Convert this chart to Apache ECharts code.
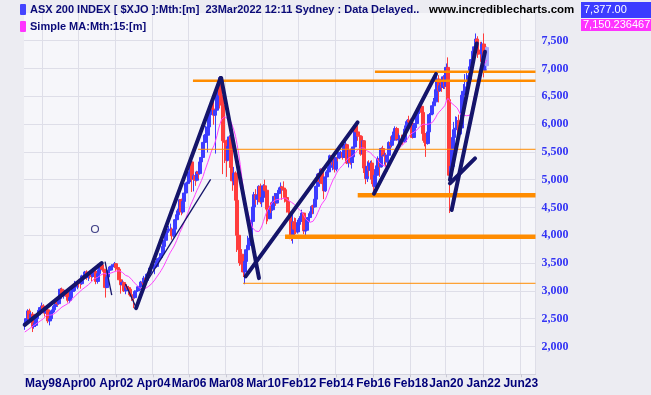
<!DOCTYPE html>
<html><head><meta charset="utf-8">
<script src="https://cdn.jsdelivr.net/npm/echarts@6/dist/echarts.min.js"></script>
<style>html,body{margin:0;padding:0;background:#ececf2;}#c{width:651px;height:395px;}</style>
</head><body><div id="c"></div>
<script>
// ---- data (monthly bars, first bar = May 1997) ----
const startYear = 1997, startMonth = 4;
const categoryCount = 330;
const opens = [
2380,2420,2500,2640,2500,2580,2360,2380,
2500,2570,2650,2700,2730,2620,2600,2660,2460,2500,2620,2660,
2720,2800,2770,2860,3030,2920,2930,2980,2900,2830,2880,2990,
3060,3070,3080,3160,3150,3130,3270,3230,3340,3240,3320,3280,
3260,3350,3350,3170,3310,3380,3470,3390,3350,3060,3250,3370,
3430,3450,3450,3490,3420,3390,3200,3110,3150,3000,3080,3060,
3030,2930,2900,2880,2990,3000,3020,3080,3160,3150,3230,3190,
3300,3330,3410,3420,3430,3440,3530,3580,3600,3670,3800,3910,
4050,4080,4100,4110,3990,4110,4280,4370,4440,4640,4420,4610,
4760,4930,4960,5130,5320,5010,5070,4990,5140,5110,5320,5400,
5670,5800,5800,5950,6170,6290,6270,6160,6250,6580,6780,6520,
6340,5700,5670,5350,5600,5770,5220,4980,5120,4630,4000,3740,
3660,3480,3340,3530,3740,3820,3950,4250,4510,4730,4650,4720,
4880,4600,4680,4890,4810,4470,4300,4490,4460,4600,4700,4580,
4750,4810,4870,4850,4820,4680,4610,4420,4300,3980,4240,4110,
4060,4230,4250,4340,4400,4080,4090,4280,4320,4390,4520,4510,
4650,4880,5100,4970,5190,4930,4800,5050,5140,5220,5430,5320,
5350,5190,5400,5390,5490,5490,5400,5630,5630,5300,5530,5310,
5410,5590,5930,5860,5790,5780,5460,5700,5210,5020,5240,5170,
5300,5010,4880,5080,5250,5380,5230,5560,5430,5440,5320,5440,
5670,5620,5710,5860,5920,5720,5720,5720,5710,5680,5910,5970,
6070,6040,6020,5760,5980,6010,6190,6280,6320,6210,5830,5670,
5650,5860,6170,6180,6330,6400,6620,6810,6600,6690,6660,6850,
6680,7020,6440,5080,5240,5760,5900,5930,6060,5820,5930,6520,
6590,6610,6670,6790,7030,7160,7310,7390,7530,7330,7320,7260,
7440,6970,7050];
const closes = [
2420,2500,2640,2500,2580,2360,2380,2500,
2570,2650,2700,2730,2620,2600,2660,2460,2500,2620,2660,2720,
2800,2770,2860,3030,2920,2930,2980,2900,2830,2880,2990,3060,
3070,3080,3160,3150,3130,3270,3230,3340,3240,3320,3280,3260,
3350,3350,3170,3310,3380,3470,3390,3350,3060,3250,3370,3430,
3450,3450,3490,3420,3390,3200,3110,3150,3000,3080,3060,3030,
2930,2900,2880,2990,3000,3020,3080,3160,3150,3230,3190,3300,
3330,3410,3420,3430,3440,3530,3580,3600,3670,3800,3910,4050,
4080,4100,4110,3990,4110,4280,4370,4440,4640,4420,4610,4760,
4930,4960,5130,5320,5010,5070,4990,5140,5110,5320,5400,5670,
5800,5800,5950,6170,6290,6270,6160,6250,6580,6780,6520,6340,
5700,5670,5350,5600,5770,5220,4980,5120,4630,4000,3740,3660,
3480,3340,3530,3740,3820,3950,4250,4510,4730,4650,4720,4880,
4600,4680,4890,4810,4470,4300,4490,4460,4600,4700,4580,4750,
4810,4870,4850,4820,4680,4610,4420,4300,3980,4240,4110,4060,
4230,4250,4340,4400,4080,4090,4280,4320,4390,4520,4510,4650,
4880,5100,4970,5190,4930,4800,5050,5140,5220,5430,5320,5350,
5190,5400,5390,5490,5490,5400,5630,5630,5300,5530,5310,5410,
5590,5930,5860,5790,5780,5460,5700,5210,5020,5240,5170,5300,
5010,4880,5080,5250,5380,5230,5560,5430,5440,5320,5440,5670,
5620,5710,5860,5920,5720,5720,5720,5710,5680,5910,5970,6070,
6040,6020,5760,5980,6010,6190,6280,6320,6210,5830,5670,5650,
5860,6170,6180,6330,6400,6620,6810,6600,6690,6660,6850,6680,
7020,6440,5080,5240,5760,5900,5930,6060,5820,5930,6520,6590,
6610,6670,6790,7030,7160,7310,7390,7530,7330,7320,7260,7440,
6970,7050,7377];
const lows = [
2300,2400,2480,2440,2470,2260,2320,2350,
2470,2540,2620,2670,2600,2540,2570,2420,2380,2460,2580,2600,
2700,2730,2750,2840,2880,2860,2900,2850,2790,2780,2860,2970,
2990,3000,3030,3060,3040,3110,3200,3210,3200,3180,3220,3170,
3240,3300,3120,3130,3300,3360,3360,3320,2880,3050,3230,3330,
3380,3370,3420,3360,3330,3150,2950,3070,2980,2940,3020,2980,
2900,2820,2690,2860,2950,2980,3000,3070,3100,3140,3170,3180,
3250,3310,3330,3380,3300,3420,3500,3530,3590,3650,3780,3890,
4000,4060,4030,3920,3960,4100,4240,4320,4430,4360,4390,4590,
4730,4870,4950,5100,4780,4790,4890,4970,5020,5090,5250,5390,
5620,5680,5490,5940,6150,6200,5990,5470,6220,6560,6280,6150,
5100,5300,5050,5330,5560,5200,4800,4900,4380,3700,3500,3450,
3350,3250,3120,3500,3660,3810,3840,4230,4450,4550,4550,4680,
4560,4510,4680,4790,4200,4250,4290,4400,4440,4580,4530,4580,
4700,4780,4640,4800,4590,4410,4390,3930,3900,3850,4020,4020,
4030,4180,4190,4320,4020,3990,4070,4240,4240,4380,4380,4500,
4640,4850,4930,4950,4880,4650,4780,4970,5090,5200,5260,5170,
5130,5150,5330,5370,5430,5360,5400,5550,5280,5220,5270,5200,
5300,5580,5780,5700,5550,5430,5400,5120,4920,4960,5060,5010,
4920,4710,4860,5000,5170,5050,5220,5410,5270,5230,5150,5420,
5580,5580,5660,5810,5700,5620,5650,5630,5630,5670,5870,5950,
5990,5800,5740,5750,5920,5930,6170,6190,6080,5700,5600,5410,
5630,5840,6050,6160,6240,6380,6590,6390,6580,6580,6630,6630,
6660,6310,4400,5000,5320,5680,5900,5900,5760,5810,5960,6490,
6550,6560,6620,6770,6900,7150,7180,7370,7190,7250,7120,7140,
6840,6920,6980];
const highs = [
2460,2530,2670,2680,2620,2620,2430,2520,
2600,2670,2730,2790,2760,2650,2700,2680,2560,2650,2700,2750,
2830,2840,2880,3050,3060,2990,3020,3010,2950,2900,3010,3090,
3180,3130,3180,3210,3190,3290,3310,3360,3370,3340,3360,3310,
3370,3420,3390,3340,3420,3500,3510,3420,3380,3270,3400,3450,
3480,3480,3520,3500,3470,3400,3230,3190,3170,3110,3120,3090,
3050,2970,2950,3010,3080,3090,3100,3180,3200,3270,3290,3310,
3360,3440,3490,3470,3480,3540,3590,3620,3680,3820,3940,4060,
4120,4170,4210,4140,4130,4290,4390,4480,4650,4660,4620,4790,
4950,5000,5150,5370,5340,5100,5110,5160,5180,5340,5420,5680,
5820,5970,5960,6190,6340,6390,6400,6270,6600,6840,6850,6650,
6370,5900,5720,5650,5800,5780,5300,5230,5150,4730,4170,3800,
3750,3560,3600,3790,3990,4020,4270,4530,4780,4830,4760,4900,
4930,4700,4920,5000,4820,4610,4530,4590,4620,4760,4760,4780,
4860,4950,4890,4970,4840,4710,4630,4460,4340,4390,4320,4310,
4280,4310,4350,4460,4400,4170,4300,4380,4430,4540,4550,4660,
4890,5120,5140,5200,5220,4970,5070,5170,5250,5450,5440,5390,
5370,5410,5440,5500,5520,5510,5640,5680,5650,5540,5560,5470,
5590,5950,5980,6000,5820,5780,5710,5700,5330,5330,5350,5340,
5350,5060,5190,5280,5420,5400,5580,5610,5490,5480,5480,5690,
5780,5800,5900,5960,5950,5830,5800,5810,5760,5930,6050,6090,
6150,6100,6050,5990,6100,6220,6290,6370,6330,6220,5900,5760,
5880,6200,6270,6380,6470,6680,6880,6880,6740,6800,6880,6880,
7090,7200,6650,5550,5780,6040,6140,6130,6170,6190,6580,6720,
6900,6920,6880,7060,7160,7380,7410,7630,7580,7500,7480,7480,
7630,7260,7400];
const ma15 = [
2260,2280,2300,2320,2340,2360,2380,2400,2420,2440,2460,2480,2500,2530,
2561,2563,2563,2562,2573,2582,2611,2637,2661,2692,2710,2725,2742,2761,2776,2791,
2826,2863,2893,2921,2951,2974,2998,3025,3039,3067,3087,3110,3135,3164,3195,3219,
3227,3243,3263,3283,3299,3314,3300,3301,3303,3316,3325,3336,3351,3356,3359,3361,
3347,3332,3301,3280,3261,3259,3237,3206,3169,3139,3109,3077,3055,3039,3036,3044,
3047,3067,3083,3107,3133,3166,3202,3245,3285,3325,3368,3416,3466,3526,3583,3643,
3697,3741,3788,3845,3908,3975,4049,4105,4172,4245,4320,4390,4462,4545,4605,4669,
4736,4805,4860,4923,4987,5056,5148,5227,5307,5389,5478,5554,5610,5693,5793,5913,
6005,6087,6112,6130,6109,6095,6093,6045,5965,5887,5778,5634,5467,5272,5052,4840,
4653,4522,4399,4305,4215,4131,4099,4077,4050,4067,4107,4169,4251,4340,4415,4467,
4517,4559,4603,4633,4637,4639,4649,4659,4657,4672,4672,4653,4627,4616,4595,4578,
4555,4519,4487,4465,4438,4411,4358,4307,4271,4247,4233,4239,4253,4298,4341,4407,
4467,4531,4577,4607,4651,4721,4797,4873,4940,5004,5049,5108,5157,5198,5224,5253,
5282,5329,5362,5394,5405,5418,5429,5469,5503,5543,5569,5573,5587,5569,5543,5517,
5487,5487,5452,5423,5401,5379,5342,5300,5285,5261,5260,5235,5250,5293,5319,5355,
5392,5453,5509,5551,5583,5605,5635,5658,5694,5736,5784,5823,5829,5853,5873,5895,
5919,5959,5991,5999,5996,5994,5991,6004,6011,6031,6056,6113,6169,6208,6241,6267,
6302,6333,6413,6464,6426,6385,6357,6339,6312,6289,6236,6177,6172,6165,6162,6150,
6157,6158,6206,6355,6498,6616,6711,6804,6884,6992,7061,7097,7150];
const xTickIndex  = [12,35,59,83,106,130,154,177,201,225,249,272,296,320];
const xTickLabels = ['May98','Apr00','Apr02','Apr04','Mar06','Mar08','Mar10','Feb12','Feb14','Feb16','Feb18','Jan20','Jan22','Jun23'];
const yTickValues = [2000,2500,3000,3500,4000,4500,5000,5500,6000,6500,7000,7500];
// drawn lines: [[barIndex, value],[barIndex, value]]
const thickTrendLines = [
  [[0,2390],[49.6,3500]],
  [[71.8,2690],[126.3,6830]],
  [[126.7,6830],[151.1,3230]],
  [[142.5,3260],[214.7,6030]],
  [[225.3,4750],[265.3,6900]],
  [[274.3,4995],[291.6,7450]],
  [[275.4,4455],[296.9,7300]],
  [[274.3,4935],[290.5,5385]]
];
const thinTrendLines = [
  [[76.0,3047],[119.9,5007]],
  [[51.8,3525],[56.1,2926]],
  [[65.0,3124],[72.1,2683]]
];
const orangeThick  = [[167.9,3975],[214.8,4719]];
const orangeMedium = [[108.5,6781],[225.9,6942]];
const orangeThin   = [[111.8,5547],[140.8,3137]];
const markerPoint  = [[45.3,4113]];
const lastClose = '7,377.00', lastMA = '7,150.236467';
const headerMain = 'ASX 200 INDEX [ $XJO ]:Mth:[m]  23Mar2022 12:11 Sydney : Data Delayed..';
const headerMA = 'Simple MA:Mth:15:[m]';
const siteName = 'www.incrediblecharts.com';

// ---- build ----
const mNames = ['Jan','Feb','Mar','Apr','May','Jun','Jul','Aug','Sep','Oct','Nov','Dec'];
const categories = [];
for (let i = 0; i < categoryCount; i++) {
  const m = startMonth + i;
  categories.push(mNames[m % 12] + String((startYear + Math.floor(m / 12)) % 100).padStart(2, '0'));
}
const candleData = closes.map((c, i) => {
  const v = [opens[i], c, lows[i], highs[i]];
  if (i === closes.length - 1) return {value: v, itemStyle: {color: '#a8a8ff', borderColor: '#a8a8ff'}};
  return v;
});
const xEnd = categoryCount - 0.5;
const NAVY = '#14146a';
const series = [
  {type: 'candlestick', data: candleData, barWidth: 3.5, z: 2,
   itemStyle: {color: '#3c3cff', color0: '#ff3c3c', borderColor: '#3c3cff', borderColor0: '#ff3c3c', borderWidth: 1}},
  {type: 'line', data: ma15, symbol: 'none', z: 3, lineStyle: {color: '#ff44ff', width: 1}}
];
function hline(arr, w) {
  arr.forEach(p => series.push({type: 'line', xAxisIndex: 1, symbol: 'none', z: 4,
    data: [[p[0], p[1]], [xEnd, p[1]]], lineStyle: {color: '#ff8c00', width: w}}));
}
hline(orangeThick, 4.5); hline(orangeMedium, 2.5); hline(orangeThin, 1);
thickTrendLines.forEach(l => series.push({type: 'line', xAxisIndex: 1, symbol: 'none', z: 5,
  data: l, lineStyle: {color: NAVY, width: 4, cap: 'round'}}));
thinTrendLines.forEach(l => series.push({type: 'line', xAxisIndex: 1, symbol: 'none', z: 5,
  data: l, lineStyle: {color: NAVY, width: 1.3}}));
series.push({type: 'scatter', xAxisIndex: 1, data: markerPoint, symbol: 'circle', symbolSize: 7, z: 6,
  itemStyle: {color: 'rgba(255,255,255,0.3)', borderColor: NAVY, borderWidth: 1.2}});

const tickSet = new Set(xTickIndex);
const GRIDC = '#dedee8';
const splitColors = [GRIDC, GRIDC, GRIDC, GRIDC, GRIDC, GRIDC, GRIDC, GRIDC, GRIDC, GRIDC, GRIDC, GRIDC, GRIDC, 'rgba(0,0,0,0)'];
const chart = echarts.init(document.getElementById('c'), null, {renderer: 'canvas'});
chart.setOption({
  animation: false,
  backgroundColor: '#ececf2',
  grid: {left: 24, right: 115.5, top: 12.9, bottom: 20.7, show: true, backgroundColor: '#f6f6fa', borderWidth: 0},
  xAxis: [
    {type: 'category', data: categories, boundaryGap: true,
     axisLine: {lineStyle: {color: '#d4d4de'}},
     axisTick: {show: true, alignWithLabel: true, length: 3, interval: (i) => tickSet.has(i), lineStyle: {color: '#c8c8d4'}},
     axisLabel: {interval: (i) => tickSet.has(i), formatter: (v, i) => xTickLabels[xTickIndex.indexOf(i)] || '',
       color: '#00007a', fontWeight: 'bold', fontSize: 12, fontFamily: '"Liberation Sans", Arial, sans-serif', margin: 3},
     splitLine: {show: true, interval: (i) => tickSet.has(i), lineStyle: {color: GRIDC, width: 1}}},
    {type: 'value', min: -0.5, max: xEnd, show: false}
  ],
  yAxis: {type: 'value', position: 'right', min: 1500, max: 8000, interval: 500,
    axisLine: {show: false}, axisTick: {show: false},
    axisLabel: {margin: 6, color: '#3434f4', fontWeight: 'bold', fontSize: 12, fontFamily: '"Liberation Serif", "Times New Roman", serif',
      formatter: (v) => yTickValues.includes(v) ? v.toLocaleString('en-US') : ''},
    splitLine: {lineStyle: {color: splitColors, width: 1}}},
  series: series,
  graphic: [
    {type: 'rect', shape: {x: 20, y: 4, width: 6, height: 11, r: 1}, style: {fill: '#4444ff'}, z: 10},
    {type: 'text', x: 30, y: 10, style: {text: headerMain, fill: '#0a0a78', font: 'bold 11px "Liberation Sans", Arial, sans-serif', verticalAlign: 'middle'}, z: 10},
    {type: 'rect', shape: {x: 20, y: 21, width: 6, height: 11, r: 1}, style: {fill: '#ff33ff'}, z: 10},
    {type: 'text', x: 30, y: 27, style: {text: headerMA, fill: '#0a0a78', font: 'bold 11px "Liberation Sans", Arial, sans-serif', verticalAlign: 'middle'}, z: 10},
    {type: 'text', x: 429, y: 10, style: {text: siteName, fill: '#000000', font: 'bold 11.5px "Liberation Sans", Arial, sans-serif', verticalAlign: 'middle'}, z: 10},
    {type: 'rect', shape: {x: 581, y: 2, width: 70, height: 16}, style: {fill: '#3c3cff'}, z: 10},
    {type: 'text', x: 584, y: 10, style: {text: lastClose, fill: '#ffffff', font: '11px "Liberation Sans", Arial, sans-serif', verticalAlign: 'middle'}, z: 11},
    {type: 'rect', shape: {x: 581, y: 19, width: 70, height: 12}, style: {fill: '#ff33ff'}, z: 10},
    {type: 'text', x: 583, y: 25, style: {text: lastMA, fill: '#ffffff', font: '11px "Liberation Sans", Arial, sans-serif', verticalAlign: 'middle'}, z: 11}
  ]
});
</script></body></html>
